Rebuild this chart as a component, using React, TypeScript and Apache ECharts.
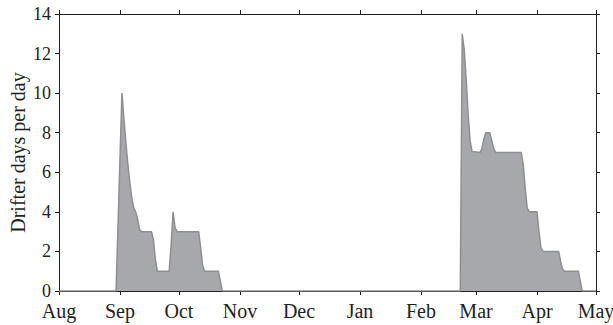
import React, { useEffect, useRef } from "react";
import * as echarts from "echarts";

// Days counted from 1 August; the axis runs to 1 May (non-leap year).
const monthStartDays = [0, 31, 61, 92, 122, 153, 184, 212, 243, 273];
const monthLabels = ["Aug", "Sep", "Oct", "Nov", "Dec", "Jan", "Feb", "Mar", "Apr", "May"];

const yTicks = [0, 2, 4, 6, 8, 10, 12, 14];

// Autumn deployment: day index and drifter days per day
const autumnDays = [0, 29, 30, 31, 32, 33, 34, 35, 36, 37, 38, 39, 40, 41, 42, 47, 48, 49, 50, 56, 57, 58, 59, 60, 71, 72, 73, 74, 81, 82, 83];
const autumnValues = [0, 0, 3.3, 6.7, 10, 8.7, 7.5, 6.4, 5.5, 4.7, 4.2, 4.0, 3.6, 3.1, 3, 3, 2.6, 1.6, 1, 1, 2.3, 4, 3.2, 3, 3, 2.2, 1.3, 1, 1, 0.5, 0];

// Spring deployment
const springDays = [204, 205, 206, 207, 208, 209, 210, 214, 215, 216, 217, 219, 220, 221, 222, 235, 236, 237, 238, 239, 243, 244, 245, 246, 254, 255, 256, 257, 264, 265, 266, 273];
const springValues = [0, 13, 12.2, 10.7, 8.9, 7.6, 7.05, 7, 7.2, 7.7, 8, 8, 7.6, 7.2, 7, 7, 6.4, 5.2, 4.2, 4, 4, 3, 2.2, 2, 2, 1.5, 1.1, 1, 1, 0.5, 0, 0];

const FONT = "'Liberation Serif', 'Times New Roman', serif";
const INK = "#231f20";

export default function App() {
  const ref = useRef<HTMLDivElement>(null);

  useEffect(() => {
    if (!ref.current) return;
    const chart = echarts.init(ref.current, undefined, { renderer: "svg" });

    const points: [number, number][] = [];
    autumnDays.forEach((d, i) => points.push([d, autumnValues[i]]));
    springDays.forEach((d, i) => points.push([d, springValues[i]]));

    const monthName = (v: number) => {
      const i = monthStartDays.indexOf(v);
      return i >= 0 ? monthLabels[i] : "";
    };

    const axisLine = { show: true, onZero: false, lineStyle: { color: INK, width: 1 } };
    const tick = { show: true, inside: false, length: 4, lineStyle: { color: INK, width: 1 } };

    chart.setOption({
      animation: false,
      grid: {
        left: 59,
        right: 17,
        top: 14,
        bottom: 34,
        containLabel: false,
        outerBoundsMode: "none",
      },
      xAxis: [
        {
          type: "value",
          position: "bottom",
          min: 0,
          max: 273,
          axisLine,
          axisTick: { ...tick, customValues: monthStartDays },
          axisLabel: {
            customValues: monthStartDays,
            formatter: monthName,
            fontFamily: FONT,
            fontSize: 20,
            lineHeight: 16,
            color: INK,
            margin: 12,
            hideOverlap: false,
          },
          splitLine: { show: false },
        },
        {
          type: "value",
          position: "top",
          min: 0,
          max: 273,
          axisLine,
          axisTick: { ...tick, customValues: monthStartDays },
          axisLabel: { show: false },
          splitLine: { show: false },
        },
      ],
      yAxis: [
        {
          type: "value",
          position: "left",
          min: 0,
          max: 14,
          interval: 2,
          name: "Drifter days per day",
          nameLocation: "middle",
          nameGap: 31,
          nameMoveOverlap: false,
          nameTextStyle: { fontFamily: FONT, fontSize: 20, color: INK },
          axisLine,
          axisTick: tick,
          axisLabel: {
            fontFamily: FONT,
            fontSize: 18,
            lineHeight: 12,
            color: INK,
            margin: 8,
            formatter: (v: number) => (yTicks.includes(v) ? String(v) : ""),
          },
          splitLine: { show: false },
        },
        {
          type: "value",
          position: "right",
          min: 0,
          max: 14,
          interval: 2,
          axisLine,
          axisTick: tick,
          axisLabel: { show: false },
          splitLine: { show: false },
        },
      ],
      series: [
        {
          type: "line",
          data: points,
          xAxisIndex: 0,
          yAxisIndex: 0,
          showSymbol: false,
          symbol: "none",
          lineStyle: { color: "#8e8f92", width: 1.5 },
          areaStyle: { color: "#a7a8ab", opacity: 1 },
          z: 1,
        },
      ],
    });

    return () => chart.dispose();
  }, []);

  return (
    <div
      ref={ref}
      style={{ position: "fixed", left: 0, top: 0, width: 613, height: 325, background: "#fff" }}
    />
  );
}
